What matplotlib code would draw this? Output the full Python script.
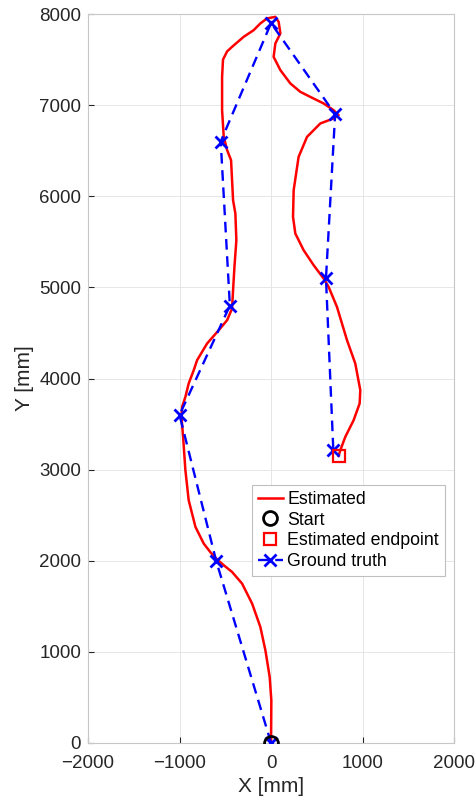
import matplotlib
matplotlib.use("Agg")
import matplotlib.pyplot as plt

plt.rcParams['font.family'] = ['Liberation Sans', 'DejaVu Sans']

# Ground-truth waypoints [mm]
gt_x = [0, -600, -1000, -450, -550, 0, 700, 600, 680]
gt_y = [0, 2000, 3600, 4800, 6600, 7900, 6900, 5100, 3220]

# Estimated trajectory [mm]
est_x = [0, 3, -15, -62, -117, -207, -317, -426, -510, -585, -660, -736, -826,
         -900, -936, -961, -979, -972, -936, -900, -845, -808, -699, -572, -480,
         -426, -415, -400, -379, -390, -415, -426, -437, -480, -517, -535, -535,
         -525, -480, -426, -299, -190, -117, -44, 47, 83, 102, 47, 28, 102, 211,
         320, 450, 574, 683, 738, 683, 538, 393, 301, 247, 240, 265, 356, 465,
         574, 629, 720, 830, 920, 975, 968, 902, 811, 757, 738]
est_y = [0, 468, 725, 1018, 1273, 1530, 1750, 1877, 1945, 2010, 2090, 2189, 2371,
         2664, 2994, 3360, 3579, 3688, 3798, 3945, 4091, 4201, 4384, 4530, 4640,
         4768, 4969, 5225, 5518, 5811, 5957, 6177, 6396, 6506, 6652, 6945, 7311,
         7500, 7590, 7640, 7750, 7823, 7897, 7952, 7969, 7914, 7787, 7677, 7530,
         7384, 7238, 7146, 7080, 7019, 6945, 6890, 6854, 6799, 6652, 6432, 6067,
         5774, 5592, 5408, 5244, 5098, 5005, 4786, 4420, 4165, 3872, 3726, 3542,
         3359, 3213, 3150]

x_ticks = [-2000, -1000, 0, 1000, 2000]
y_ticks = [0, 1000, 2000, 3000, 4000, 5000, 6000, 7000, 8000]

txt = (0.15, 0.15, 0.15)

fig = plt.figure(figsize=(4.77, 8.02), dpi=100)
ax = fig.add_axes([0.1845, 0.0736, 0.7675, 0.9089])

ax.plot(est_x, est_y, color='red', lw=1.8, label='Estimated', zorder=3,
        solid_joinstyle='round')
ax.plot(est_x[0], est_y[0], 'o', ms=10, mfc='none', mec='black', mew=2,
        label='Start', zorder=5)
ax.plot(est_x[-1], est_y[-1], 's', ms=9, mfc='none', mec='red', mew=1.6,
        label='Estimated endpoint', zorder=5)
ax.plot(gt_x, gt_y, '--x', color='blue', lw=1.7, ms=9, mew=2,
        dashes=(4.5, 2.8), label='Ground truth', zorder=4)

ax.set_xlim(-2000, 2000)
ax.set_ylim(0, 8000)
ax.set_xticks(x_ticks)
ax.set_yticks(y_ticks)
ax.grid(True, color=(0.9, 0.9, 0.9), lw=0.7)
ax.set_axisbelow(True)
for s in ax.spines.values():
    s.set_color((0.78, 0.78, 0.78))
    s.set_linewidth(0.8)
ax.tick_params(direction='in', length=4, width=0.8, color=txt,
               labelsize=13.5, labelcolor=txt, top=False, right=False)
ax.tick_params(axis='x', pad=9)
ax.tick_params(axis='y', pad=5)

ax.set_xlabel('X [mm]', fontsize=15, color=txt, labelpad=3)
ax.set_ylabel('Y [mm]', fontsize=15, color=txt, labelpad=4)

leg = ax.legend(loc='upper left', bbox_to_anchor=(0.447, 0.354), fontsize=12.8,
                handlelength=1.4, handletextpad=0.25, borderpad=0.35,
                labelspacing=0.2, borderaxespad=0, fancybox=False,
                framealpha=1, edgecolor=(0.75, 0.75, 0.75))
leg.get_frame().set_linewidth(0.8)
for t in leg.get_texts():
    t.set_color('black')

fig.savefig('out.png', dpi=100)
